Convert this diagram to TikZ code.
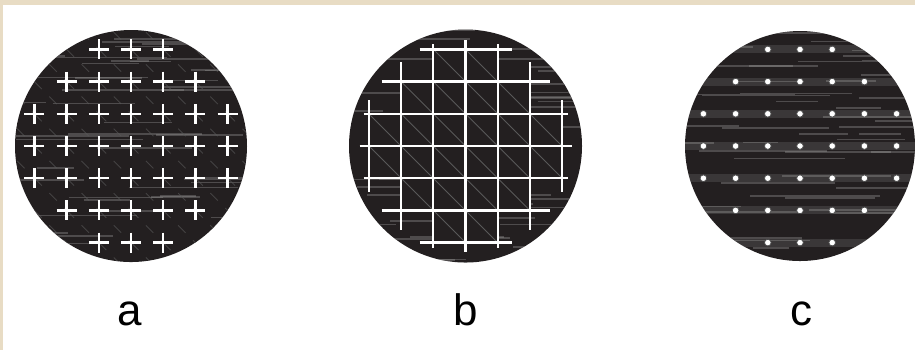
\documentclass[tikz,border=0pt]{standalone}
\usepackage{fontspec}
\setmainfont{Liberation Sans}
\usetikzlibrary{calc}
\definecolor{paper}{RGB}{232,220,196}
\definecolor{wafer}{RGB}{35,31,32}
\newcommand{\diepitch}{32.2}

\tikzset{
  wafer/.style={fill=wafer},
  streak/.style={draw=gray!75, line width=0.5pt, opacity=0.35},
  diag/.style={draw=gray!70!black, line width=0.25pt},
  plus/.style={draw=white, line width=0.65pt},
  gridline/.style={draw=white, line width=0.65pt},
  pad/.style={fill=white, draw=gray!60!black, line width=0.2pt},
  lbl/.style={anchor=base, inner sep=0pt, font=\fontsize{12.5}{15}\selectfont}
}

\begin{document}
\begin{tikzpicture}[x=0.01cm, y=-0.01cm]
    \useasboundingbox (0,0) rectangle (915,350);
    \fill[paper] (0,0) rectangle (915,350);
    \fill[white] (3,5) rectangle (915,350);

    \coordinate (wa) at (131,146);
    \coordinate (wb) at (465.5,146);
    \coordinate (wc) at (800,146);

    \pgfmathsetseed{7}
    % wafer a : crosses
    \begin{scope}[shift={(wa)}]
     \fill[wafer] (0,0) circle (116);
     \clip (0,0) circle (116);
     \foreach \k in {1,...,45} {
       \pgfmathsetmacro\yy{rnd*232-116}
       \pgfmathsetmacro\xx{rnd*220-140}
       \pgfmathsetmacro\ll{30+rnd*110}
       \draw[streak] (\xx,\yy) -- ++(\ll,0);
     }
     \foreach \j in {-4,...,3}
       \foreach \i in {-4,...,3}
         \draw[diag, dashed, opacity=0.6] (\i*\diepitch,\j*\diepitch) -- ++(\diepitch,\diepitch);
     \foreach \r/\m in {-3/1,-2/2,-1/3,0/3,1/3,2/2,3/1}
       \foreach \c in {-\m,...,\m}
         \draw[plus] (\c*\diepitch-10,\r*\diepitch) -- ++(20,0)
                     (\c*\diepitch,\r*\diepitch-10) -- ++(0,20);
    \end{scope}

    % wafer b : scribe grid
    \begin{scope}[shift={(wb)}]
     \fill[wafer] (0,0) circle (116.5);
     \begin{scope}
      \clip (0,0) circle (116.5);
      \foreach \k in {1,...,45} {
        \pgfmathsetmacro\yy{rnd*233-116}
        \pgfmathsetmacro\xx{rnd*220-140}
        \pgfmathsetmacro\ll{30+rnd*110}
        \draw[streak] (\xx,\yy) -- ++(\ll,0);
      }
     \end{scope}
     \fill[wafer] (-32.2,-96.6) -| (32.2,-64.4) -| (64.4,-32.2) -| (96.6,32.2)
        -| (64.4,64.4) -| (32.2,96.6) -| (-32.2,64.4) -| (-64.4,32.2)
        -| (-96.6,-32.2) -| (-64.4,-64.4) -| (-32.2,-96.6) -- cycle;
     \foreach \j/\a/\b in {-3/-1/0,-2/-2/1,-1/-3/2,0/-3/2,1/-2/1,2/-1/0}
       \foreach \i in {\a,...,\b}
         \draw[diag] (\i*\diepitch,\j*\diepitch) -- ++(\diepitch,\diepitch);
     \foreach \k/\h in {-3/46,-2/84,-1/102,0/106,1/102,2/84,3/46} {
       \draw[gridline] (\k*\diepitch,-\h) -- (\k*\diepitch,\h);
       \draw[gridline] (-\h,\k*\diepitch) -- (\h,\k*\diepitch);
     }
    \end{scope}

    % wafer c : pads
    \begin{scope}[shift={(wc)}]
     \fill[wafer] (0,0) circle (115);
     \clip (0,0) circle (115);
     \foreach \r in {-3,...,3}
       \fill[gray, opacity=0.25] (-120,\r*\diepitch-4) rectangle (120,\r*\diepitch+4);
     \foreach \k in {1,...,45} {
       \pgfmathsetmacro\yy{rnd*230-115}
       \pgfmathsetmacro\xx{rnd*220-140}
       \pgfmathsetmacro\ll{30+rnd*110}
       \draw[streak] (\xx,\yy) -- ++(\ll,0);
     }
     \foreach \r/\m in {-3/1,-2/2,-1/3,0/3,1/3,2/2,3/1}
       \foreach \c in {-\m,...,\m}
         \filldraw[pad] (\c*\diepitch,\r*\diepitch) circle (3.3);
    \end{scope}

    \node[lbl] (la) at (130,325) {a};
    \node[lbl] (lb) at (466,325) {b};
    \node[lbl] (lc) at (801,325) {c};
\end{tikzpicture}
\end{document}
